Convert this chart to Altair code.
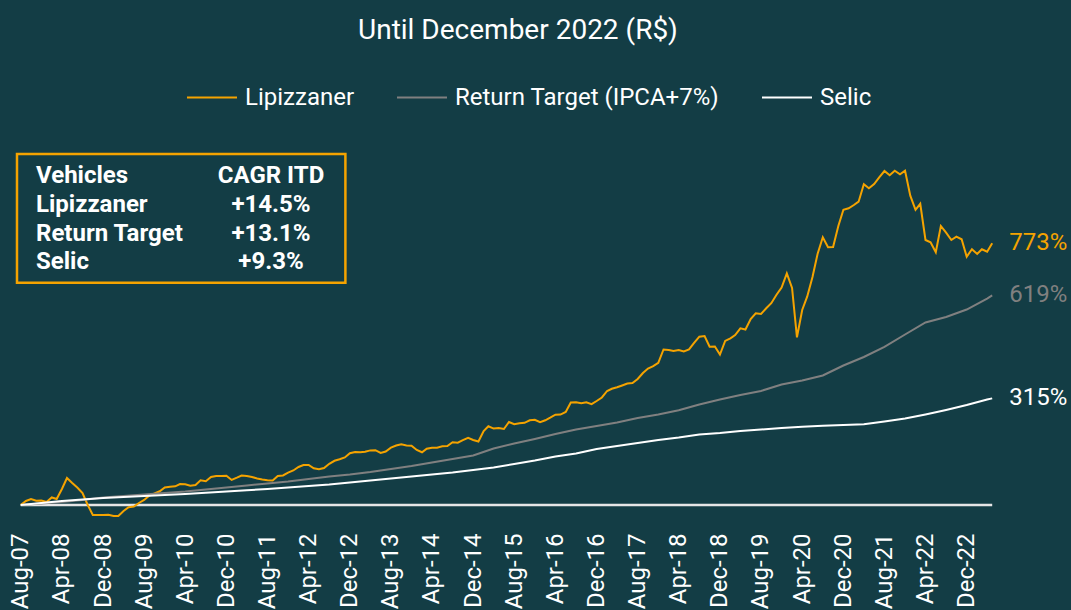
import altair as alt
import pandas as pd

# ---------------- data ----------------
series_names = ["Lipizzaner", "Return Target (IPCA+7%)", "Selic"]
series_colors = ["#F5A300", "#808080", "#FFFFFF"]

start_month = "2007-08-01"
n_months = 190  # Aug-07 .. May-23

# Lipizzaner cumulative return (%), monthly
lipizzaner = [
    0, 11.8, 17.7, 12.7, 13.3, 8.9, 22.2, 17.7, 47.3, 79.8,
    65.0, 51.7, 35.4, 0.0, -29.5, -29.5, -29.5, -28.7, -32.5, -32.5,
    -17.7, -6.8, -4.4, 5.9, 14.8, 28.1, 34.0, 40.5, 51.7, 54.1,
    55.2, 62.0, 61.1, 57.0, 59.1, 73.0, 70.0, 82.7, 85.7, 85.7,
    86.6, 73.9, 80.6, 87.1, 85.7, 82.7, 78.3, 75.3, 73.3, 72.4,
    85.7, 87.1, 95.4, 101.9, 112.3, 118.2, 118.2, 108.4, 105.5, 109.3,
    121.7, 130.6, 135.0, 140.3, 153.0, 156.6, 155.7, 157.4, 161.3, 161.9,
    153.6, 158.0, 169.3, 175.5, 179.3, 175.8, 175.2, 162.5, 155.7, 166.3,
    169.3, 169.3, 173.4, 174.3, 185.2, 184.0, 191.4, 198.2, 192.0, 187.6,
    218.6, 232.5, 225.7, 227.5, 224.5, 245.2, 238.7, 241.4, 242.8, 250.2,
    251.7, 244.6, 250.2, 257.9, 266.8, 267.1, 274.7, 302.8, 303.4, 300.4,
    303.4, 297.8, 307.2, 317.6, 336.8, 343.3, 347.7, 353.0, 358.6, 360.4,
    372.2, 389.9, 403.2, 410.0, 420.1, 459.4, 457.9, 454.9, 457.9, 453.5,
    459.4, 478.6, 497.2, 499.3, 467.6, 468.2, 444.6, 484.5, 492.5, 502.2,
    522.0, 518.5, 549.5, 566.3, 564.3, 581.1, 596.2, 621.0, 642.5, 683.9,
    641.1, 495.4, 576.1, 616.0, 673.5, 741.5, 790.8, 761.3, 762.2, 824.2,
    872.2, 876.5, 886.3, 896.1, 947.4, 935.6, 948.3, 968.1, 986.7, 974.0,
    987.6, 976.9, 987.6, 913.7, 872.2, 889.9, 782.9, 776.1, 746.5, 824.2,
    804.4, 782.9, 792.6, 784.9, 733.5, 755.4, 741.5, 755.4, 748.3, 773.0,
]

# Smooth benchmarks, read every 4 months (month index from Aug-07)
bench_idx = [0, 4, 8, 12, 16, 20, 24, 28, 32, 36, 40, 44, 48, 52, 56, 60,
             64, 68, 72, 76, 80, 84, 88, 92, 96, 100, 104, 108, 112, 116,
             120, 124, 128, 132, 136, 140, 144, 148, 152, 156, 160, 164,
             168, 172, 176, 180, 184, 188, 189]
return_target = [0, 4.4, 8.9, 14.8, 22.2, 26.6, 31.0, 35.4, 39.9, 45.8,
                 51.7, 57.6, 63.5, 69.4, 76.8, 84.2, 90.1, 97.5, 106.4, 115.2,
                 125.6, 135.9, 146.2, 166.9, 181.7, 195.0, 209.7, 223.0, 233.4, 243.7,
                 257.0, 267.4, 279.8, 296.9, 311.7, 325.0, 336.8, 356.0, 367.8, 382.6,
                 412.1, 437.2, 466.8, 503.7, 539.1, 555.4, 577.5, 610.0, 619.0]
selic = [0, 5.9, 11.8, 16.2, 20.7, 23.6, 26.6, 29.5, 32.5, 36.0,
         39.9, 43.4, 47.3, 51.7, 56.1, 60.6, 66.5, 72.4, 78.3, 84.2,
         90.1, 96.0, 103.4, 110.8, 121.1, 131.5, 143.3, 152.1, 165.4, 174.3,
         183.2, 192.0, 199.4, 208.3, 212.7, 218.6, 223.0, 227.5, 231.3, 234.3,
         236.3, 238.4, 246.7, 255.5, 267.4, 280.7, 295.4, 311.7, 315.0]

end_labels = ["773%", "619%", "315%"]

tick_labels = ["Aug-07", "Apr-08", "Dec-08", "Aug-09", "Apr-10", "Dec-10",
               "Aug-11", "Apr-12", "Dec-12", "Aug-13", "Apr-14", "Dec-14",
               "Aug-15", "Apr-16", "Dec-16", "Aug-17", "Apr-18", "Dec-18",
               "Aug-19", "Apr-20", "Dec-20", "Aug-21", "Apr-22", "Dec-22"]

table_left = ["Vehicles", "Lipizzaner", "Return Target", "Selic"]
table_right = ["CAGR ITD", "+14.5%", "+13.1%", "+9.3%"]

title_text = "Until December 2022 (R$)"

# ---------------- build tables ----------------
months = pd.date_range(start_month, periods=n_months, freq="MS")
mstr = [d.strftime("%Y-%m-%d") for d in months]

rows = []
for i, v in enumerate(lipizzaner):
    rows.append({"date": mstr[i], "value": v, "series": series_names[0]})
for i, v in zip(bench_idx, return_target):
    rows.append({"date": mstr[i], "value": v, "series": series_names[1]})
for i, v in zip(bench_idx, selic):
    rows.append({"date": mstr[i], "value": v, "series": series_names[2]})
df = pd.DataFrame(rows)

ends = pd.DataFrame({
    "date": [mstr[-1]] * 3,
    "value": [lipizzaner[-1], return_target[-1], selic[-1]],
    "series": series_names,
    "label": end_labels,
})

base_df = pd.DataFrame({"start": [mstr[0]], "end": [mstr[-1]], "zero": [0]})

table_df = pd.DataFrame({"row": list(range(len(table_left))),
                         "left": table_left, "right": table_right})

tick_dates = [pd.to_datetime(t, format="%b-%y") for t in tick_labels]
tick_values = [alt.DateTime(year=d.year, month=d.month, date=1, utc=True) for d in tick_dates]

# ---------------- layout ----------------
BG = "#133D45"
PLOT_W = 971.5
PLOT_H = 355.4
FONT = "Roboto"

xscale = alt.Scale(type="utc",
                   domain=[alt.DateTime(year=months[0].year, month=months[0].month, date=1, utc=True),
                           alt.DateTime(year=months[-1].year, month=months[-1].month, date=1, utc=True)])
yscale = alt.Scale(domain=[-50, 1000], nice=False, zero=False)
cscale = alt.Scale(domain=series_names, range=series_colors)

xaxis = alt.Axis(values=tick_values, labelExpr="utcFormat(datum.value, '%b-%y')",
                 labelAngle=270, labelFontSize=24, labelFont=FONT, labelColor="#FFFFFF",
                 labelPadding=11, domain=False, ticks=False, grid=False, title=None,
                 labelOverlap=False, labelFlush=False)

baseline = alt.Chart(base_df).mark_rule(color="#E6E6E6", strokeWidth=2.5).encode(
    x=alt.X("start:T", scale=xscale, axis=xaxis),
    x2="end:T",
    y=alt.Y("zero:Q", scale=yscale, axis=None),
)

lines = alt.Chart(df).mark_line(strokeWidth=2).encode(
    x=alt.X("date:T", scale=xscale, axis=xaxis),
    y=alt.Y("value:Q", scale=yscale, axis=None),
    color=alt.Color("series:N", scale=cscale, sort=series_names,
                    legend=alt.Legend(title=None, orient="none", legendX=165.3, legendY=-95,
                                      direction="horizontal", symbolType="stroke",
                                      symbolSize=2500, symbolStrokeWidth=2,
                                      labelFontSize=24, labelFont=FONT, labelColor="#FFFFFF",
                                      labelLimit=600, columnPadding=38, labelOffset=7,
                                      padding=0)),
)

end_text = alt.Chart(ends).mark_text(align="left", baseline="middle", dx=17,
                                     fontSize=24, font=FONT).encode(
    x=alt.X("date:T", scale=xscale, axis=xaxis),
    y=alt.Y("value:Q", scale=yscale, axis=None),
    text="label:N",
    color=alt.Color("series:N", scale=cscale, legend=None),
)

box = alt.Chart(pd.DataFrame({"k": [0]})).mark_rect(
    filled=False, stroke="#F5A300", strokeWidth=2.5).encode(
    x=alt.value(-3.7), x2=alt.value(324.7), y=alt.value(-12.5), y2=alt.value(116.3))

row_scale = alt.Scale(type="point", domain=list(range(len(table_left))),
                      range=[16.8, 102.8], padding=0)

tleft = alt.Chart(table_df).mark_text(align="left", baseline="alphabetic", fontSize=24,
                                      font=FONT, fontWeight="bold", color="#FFFFFF").encode(
    x=alt.value(15.3),
    y=alt.Y("row:O", scale=row_scale, axis=None),
    text="left:N",
)
tright = alt.Chart(table_df).mark_text(align="center", baseline="alphabetic", fontSize=24,
                                       font=FONT, fontWeight="bold", color="#FFFFFF").encode(
    x=alt.value(250.3),
    y=alt.Y("row:O", scale=row_scale, axis=None),
    text="right:N",
)

plot = alt.layer(baseline, lines, end_text)
table = alt.layer(box, tleft, tright)

chart = alt.layer(plot, table).resolve_scale(y="independent").properties(
    width=PLOT_W, height=PLOT_H,
    title=alt.TitleParams(title_text, fontSize=28, font=FONT, fontWeight="normal",
                          color="#FFFFFF", anchor="middle", offset=4.7, dx=11.5,
                          baseline="alphabetic"),
    autosize=alt.AutoSizeParams(type="none"),
    padding={"left": 20.7, "top": 166.5, "right": 1071 - 20.7 - PLOT_W,
             "bottom": 610 - 166.5 - PLOT_H},
    background=BG,
).configure_view(stroke=None)

chart.save("out.html", embed_options={"renderer": "svg", "actions": False})
